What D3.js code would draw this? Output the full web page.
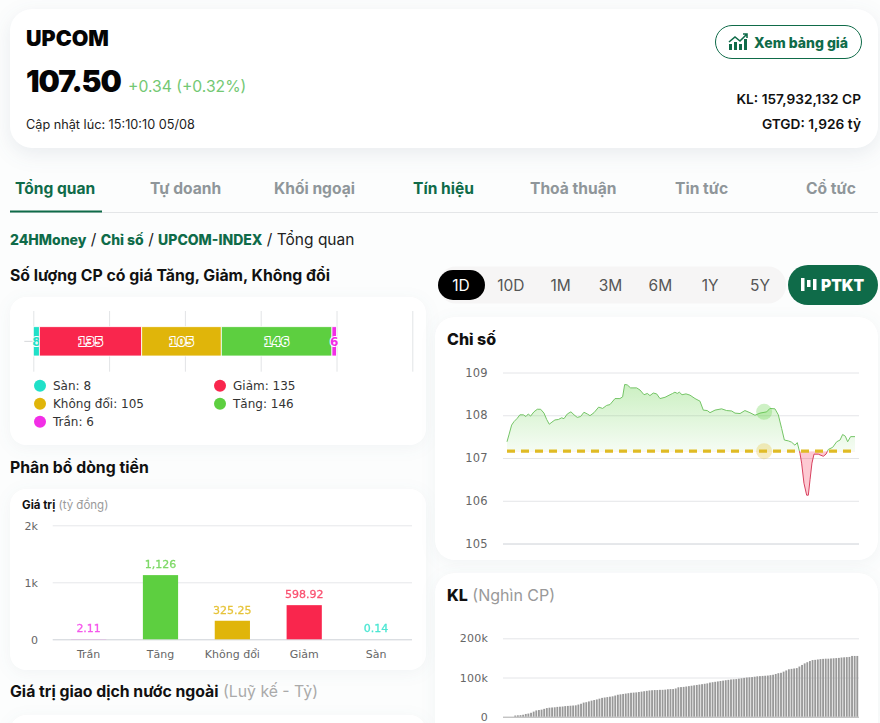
<!DOCTYPE html>
<html>
<head>
<meta charset="utf-8">
<script src="https://cdn.jsdelivr.net/npm/d3@7"></script>
<style>
html,body{margin:0;padding:0;background:#fcfdfd;overflow:hidden;}
svg{display:block;font-family:Inter,sans-serif;}
.chartText text{font-family:"DejaVu Sans",sans-serif;}
.card{fill:#fff;filter:drop-shadow(0 3px 8px rgba(40,70,100,.05));}
.domain{display:none;}
</style>
</head>
<body>
<svg id="page" width="880" height="723"></svg>
<script>
var tabs=["Tổng quan","Tự doanh","Khối ngoại","Tín hiệu","Thoả thuận","Tin tức","Cổ tức"];
var tabX=[15,150,274,413,530,675,806];
var periods=["1D","10D","1M","3M","6M","1Y","5Y"];

//so luong CP
var countNames=["Sàn","Giảm","Không đổi","Tăng","Trần"];
var countValues=[8,135,105,146,6];
var countColors=["#20e0c8","#f9264d","#e0b50a","#5dcf40","#f22ee6"];
var countTicks=[0,100,200,300,400,500];

//dong tien
var flowNames=["Trần","Tăng","Không đổi","Giảm","Sàn"];
var flowValues=[2.11,1126,325.25,598.92,0.14];
var flowLabels=["2.11","1,126","325.25","598.92","0.14"];
var flowColors=["#f22ee6","#5dcf40","#e0b50a","#f9264d","#20e0c8"];
var flowTicks=[0,1000,2000];

//chi so trong phien
var refValue=107.16;
var markerMinute=[199.5];
var markerValue=[108.08];
var indexTicks=[105,106,107,108,109];
var lineMinutes=[0,1.5,3.6,5.4,8,10,12.7,14.7,16.5,18.3,20.9,23.5,26.1,28.7,30.8,32.8,34.9,37.2,39.8,42.4,44.2,46.8,49.6,52,54.5,57.1,59.7,62.3,64.4,67.5,71.1,74.2,77.3,79.9,83.8,87.6,89.7,91.3,93.3,95.9,100.6,103.2,106.3,108.9,110.9,113.5,116.1,118.7,122.6,126.5,128.5,130.3,132.1,133.7,135.8,138.9,142,145.9,149.7,152.3,155.4,157.5,161.4,166.5,170.4,174.3,176.9,180.8,184.6,188.5,192.4,196.3,201.5,204,207.9,210.5,213.1,215.2,218.3,220.8,223.4,225.2,227.3,228.6,230.4,232.5,233.8,235.1,236.6,238.2,241.5,245.4,247.5,249.3,252.7,255.8,258.4,260.4,262.5,264.3,266.6,270];
var lineValues=[107.38,107.54,107.77,107.85,107.93,108.01,108.01,107.97,108.03,107.98,108.08,108.14,108.14,108.05,107.9,107.79,107.84,107.89,107.9,107.94,107.92,108.03,108.08,108.01,107.95,107.97,108.07,108.03,107.99,108.06,108.19,108.16,108.23,108.25,108.39,108.39,108.43,108.72,108.71,108.64,108.64,108.59,108.48,108.51,108.46,108.52,108.5,108.39,108.42,108.48,108.51,108.54,108.51,108.54,108.48,108.5,108.47,108.39,108.33,108.12,108.11,108.06,108.12,108.15,108.11,108.1,108.05,108.04,108.11,108.06,108,108.05,108.08,108.16,108.15,108.01,107.69,107.42,107.4,107.37,107.3,107.36,107.11,106.88,106.41,106.13,106.13,106.49,106.88,107.09,107.09,107.04,107.09,107.2,107.25,107.38,107.42,107.55,107.51,107.38,107.5,107.5];

//khoi luong luy ke, nghin CP
var volumeTicks=[0,100000,200000];
var volumeValues=[0,0,0,0,3,3.5,4,5,7,8,10,13,16,17,18,20,22,23,23.5,24,25,25.5,26,27,27.5,28,28.5,29,31,33,36,37,39,41,42.5,44,46,48,49,50,51,52,54,56,57,58,59,60,61,61.5,62,63,64,65,66,67,67.5,68,68,68.5,68.5,69,70,70.5,70.5,72,75,75.5,76,77,78,79,80,81,82,83,84,85,87,88,89,90,91,92,93,94,95,95.5,96,97,98,99,100,100.5,101,102,103,103.5,104,104.5,105,106,107,109,111,112,115,118,121,122,123,124,128,132,136,139,142,144.5,145,146,147,147.5,148,148,148.5,149,149.5,150,151,151.5,152,152.5,155,155,155];

var GREEN="#0f6b49";
var svg=d3.select("#page");
var defs=svg.append("defs");

var addText=function(parent,x,y,str,size,weight,color,anchor){
    return parent.append("text").attr("x",x).attr("y",y).text(str)
        .attr("font-size",size).attr("font-weight",weight)
        .attr("fill",color).attr("text-anchor",anchor||"start");
}
var addCard=function(x,y,w,h,r){
    svg.append("rect").attr("class","card").attr("x",x).attr("y",y)
        .attr("width",w).attr("height",h).attr("rx",r);
}
var styleAxis=function(g,gridColor,textColor,size,spacing){
    g.selectAll(".tick line").attr("stroke",gridColor);
    g.selectAll(".tick text").attr("fill",textColor).attr("font-size",size)
        .attr("letter-spacing",spacing).attr("font-family","DejaVu Sans");
}

// ---- header card
svg.append("rect").attr("x",10).attr("y",9).attr("width",868).attr("height",139).attr("rx",22)
    .attr("fill","#fff").style("filter","drop-shadow(0 6px 10px rgba(40,70,100,.09))");
addText(svg,26,46,"UPCOM",21.5,900,"#050505");
addText(svg,26,92,"107.50",30,900,"#050505").attr("letter-spacing",-1);
addText(svg,128,92,"+0.34 (+0.32%)",15.7,400,"#73c873");
addText(svg,26,129,"Cập nhật lúc: 15:10:10 05/08",12.7,400,"#222");
svg.append("rect").attr("x",715.5).attr("y",25.5).attr("width",146).attr("height",33).attr("rx",16.5)
    .attr("fill","#fff").attr("stroke",GREEN).attr("stroke-width",1);
var icon=svg.append("g").attr("transform","translate(729,34)");
icon.selectAll("rect").data([[0,10,3,6],[5,8,3,8],[10,10,3,6],[15,5,3,11]]).enter().append("rect")
    .attr("x",function(d){return d[0];}).attr("y",function(d){return d[1];})
    .attr("width",function(d){return d[2];}).attr("height",function(d){return d[3];}).attr("fill",GREEN);
icon.append("path").attr("d","M0 8L6 3L11 7L18 0M14 0H18V4").attr("fill","none").attr("stroke",GREEN).attr("stroke-width",1.6);
addText(svg,754,48,"Xem bảng giá",14,800,GREEN);
addText(svg,861,104,"KL: 157,932,132 CP",13.7,600,"#111","end");
addText(svg,861,129,"GTGD: 1,926 tỷ",13.7,600,"#111","end");

// ---- tabs
svg.selectAll("text.tab").data(tabs).enter().append("text").attr("class","tab")
    .attr("x",function(d,i){return tabX[i];}).attr("y",193.5)
    .attr("font-size",15.6).attr("font-weight",700)
    .attr("fill",function(d,i){return i==0||i==3?GREEN:"#8f969a";})
    .text(function(d){return d;});
svg.append("line").attr("x1",10).attr("x2",878).attr("y1",212.5).attr("y2",212.5).attr("stroke","#e4e6e8");
svg.append("rect").attr("x",10).attr("y",210.5).attr("width",92).attr("height",2).attr("fill",GREEN);

// ---- breadcrumb
var crumb=addText(svg,10,245,"",14.5,400,"#222");
[["24HMoney",1],[" / ",0],["Chỉ số",1],[" / ",0],["UPCOM-INDEX",1],[" / ",0],["Tổng quan",0]].forEach(function(c){
    crumb.append("tspan").text(c[0]).attr("font-weight",c[1]?800:400).attr("font-size",c[1]?14:15.5)
        .attr("fill",c[1]?GREEN:"#222").style("white-space","pre");
});

// ---- count chart
addText(svg,10,281,"Số lượng CP có giá Tăng, Giảm, Không đổi",15.8,650,"#111");
addCard(10,297,416,148,16);
var countG=svg.append("g").attr("class","chartText");
var xCount=d3.scaleLinear().domain([0,500]).range([33.3,412.3]);
var yCount=d3.scaleBand().domain(["count"]).range([311,371.7]);
var countAxis=countG.append("g").attr("transform","translate(0,371.7)")
    .call(d3.axisBottom(xCount).tickValues(countTicks).tickSize(-60.7).tickFormat(""));
countAxis.selectAll(".tick line").attr("stroke","#e2e4e6");
var countStub=countG.append("g").attr("transform","translate(33.3,0)")
    .call(d3.axisLeft(yCount).tickSize(9).tickFormat(""));
countStub.selectAll(".tick line").attr("stroke","#d5d7da");
var countEnds=Array.from(d3.cumsum(countValues));
var countBars=countG.selectAll("g.seg").data(countValues).enter().append("g").attr("class","seg");
countBars.append("rect")
    .attr("x",function(d,i){return xCount(countEnds[i]-d);})
    .attr("width",function(d){return xCount(d)-xCount(0);})
    .attr("y",326.7).attr("height",29.3)
    .attr("fill",function(d,i){return countColors[i];})
    .attr("stroke","#fff").attr("stroke-width",0.8);
countBars.append("text")
    .attr("x",function(d,i){return xCount(countEnds[i]-d/2);})
    .attr("y",345.5).attr("text-anchor","middle").attr("font-size",12).attr("font-weight",700)
    .attr("fill",function(d,i){return countColors[i];})
    .attr("stroke","#fff").attr("stroke-width",2).attr("paint-order","stroke")
    .text(function(d){return d;});
var legendOrder=[[40,385.7],[220,385.7],[40,403.7],[220,403.7],[40,421.7]];
var legend=countG.selectAll("g.lg").data(countNames).enter().append("g").attr("class","lg")
    .attr("transform",function(d,i){return "translate("+legendOrder[i][0]+","+legendOrder[i][1]+")";});
legend.append("circle").attr("r",6).attr("fill",function(d,i){return countColors[i];});
legend.append("text").attr("x",13).attr("y",4.5).attr("font-size",12).attr("fill","#333")
    .text(function(d,i){return d+": "+countValues[i];});

// ---- flow chart
addText(svg,10,473,"Phân bổ dòng tiền",15.8,650,"#111");
addCard(10,489,416,181,16);
var flowTitle=addText(svg,22,509,"Giá trị",11.5,700,"#111");
flowTitle.append("tspan").text(" (tỷ đồng)").attr("font-weight",400).attr("fill","#9a9a9a");
var flowG=svg.append("g").attr("class","chartText");
var xFlow=d3.scaleBand().domain(flowNames).range([52.7,412]).paddingInner(0.51).paddingOuter(0.255);
var yFlow=d3.scaleLinear().domain([0,2000]).range([639.3,525.3]);
var flowY=flowG.append("g").attr("transform","translate(52.7,0)")
    .call(d3.axisLeft(yFlow).tickValues(flowTicks).tickSize(-359.3).tickPadding(14.5)
        .tickFormat(function(d){return d?(d/1000)+"k":"0";}));
styleAxis(flowY,"#e6e7ea","#666",11,0.2);
flowY.selectAll(".tick").filter(function(d){return d==0;}).select("line").attr("stroke","#ccd0d6");
flowY.selectAll(".tick text").attr("dy","0.36em");
var flowX=flowG.append("g").attr("transform","translate(0,639.3)")
    .call(d3.axisBottom(xFlow).tickSize(0).tickPadding(11));
styleAxis(flowX,"none","#666",11,0);
flowG.selectAll("rect.flow").data(flowValues).enter().append("rect").attr("class","flow")
    .attr("x",function(d,i){return xFlow(flowNames[i]);})
    .attr("width",xFlow.bandwidth())
    .attr("y",function(d){return yFlow(d);})
    .attr("height",function(d){return yFlow(0)-yFlow(d);})
    .attr("fill",function(d,i){return flowColors[i];});
flowG.selectAll("text.flowLabel").data(flowValues).enter().append("text").attr("class","flowLabel")
    .attr("x",function(d,i){return xFlow(flowNames[i])+xFlow.bandwidth()/2;})
    .attr("y",function(d){return yFlow(d)-7;})
    .attr("text-anchor","middle").attr("font-size",11)
    .attr("fill",function(d,i){return flowColors[i];})
    .attr("stroke",function(d,i){return flowColors[i];}).attr("stroke-width",0.3).attr("opacity",0.8)
    .text(function(d,i){return flowLabels[i];});

var foreignTitle=addText(svg,10,697,"Giá trị giao dịch nước ngoài",15.8,650,"#111");
foreignTitle.append("tspan").text(" (Luỹ kế - Tỷ)").attr("font-weight",400).attr("fill","#aaa");
addCard(10,715,416,40,16);

// ---- period switch
svg.append("rect").attr("x",438).attr("y",266.5).attr("width",348).attr("height",37).attr("rx",18).attr("fill","#f6f5f5");
svg.append("rect").attr("x",438).attr("y",270).attr("width",47).attr("height",30).attr("rx",15).attr("fill","#000");
var xPeriod=d3.scalePoint().domain(periods).range([461,760]);
svg.selectAll("text.period").data(periods).enter().append("text").attr("class","period")
    .attr("x",function(d){return xPeriod(d);}).attr("y",291)
    .attr("text-anchor","middle").attr("font-size",15.5)
    .attr("fill",function(d,i){return i==0?"#fff":"#555";})
    .text(function(d){return d;});
svg.append("rect").attr("x",788).attr("y",265).attr("width",90).attr("height",40).attr("rx",20).attr("fill",GREEN);
var ptktIcon=svg.append("g").attr("fill","#fff");
ptktIcon.append("rect").attr("x",801).attr("y",278).attr("width",3.5).attr("height",13);
ptktIcon.append("rect").attr("x",807).attr("y",280).attr("width",3.5).attr("height",7);
ptktIcon.append("rect").attr("x",813).attr("y",279).attr("width",3.5).attr("height",11);
addText(svg,821,291,"PTKT",15.5,900,"#fff");

// ---- index chart
addCard(435,317,443,243,20);
addText(svg,447,345,"Chỉ số",16,800,"#111");
var lineG=svg.append("g").attr("class","chartText");
var xLine=d3.scaleLinear().domain([0,270]).range([507,855]);
var yLine=d3.scaleLinear().domain([105,109]).range([543.5,372.5]);
var lineY=lineG.append("g").attr("transform","translate(503,0)")
    .call(d3.axisLeft(yLine).tickValues(indexTicks).tickSize(-356).tickPadding(15).tickFormat(d3.format("d")));
styleAxis(lineY,"#e4e5e8","#666",11.5,0.3);
lineY.selectAll(".tick").filter(function(d){return d==105;}).select("line").attr("stroke","#ccd0d6");

var upGrad=defs.append("linearGradient").attr("id","upFill").attr("gradientUnits","userSpaceOnUse")
    .attr("x1",0).attr("x2",0).attr("y1",yLine(108.72)).attr("y2",yLine(refValue));
upGrad.append("stop").attr("offset",0).attr("stop-color","#5dcf40").attr("stop-opacity",0.32);
upGrad.append("stop").attr("offset",1).attr("stop-color","#5dcf40").attr("stop-opacity",0.06);
defs.append("clipPath").attr("id","aboveRef").append("rect")
    .attr("x",503).attr("width",356).attr("y",yLine(109)).attr("height",yLine(refValue)-yLine(109));
defs.append("clipPath").attr("id","belowRef").append("rect")
    .attr("x",503).attr("width",356).attr("y",yLine(refValue)).attr("height",yLine(105)-yLine(refValue));

var lineData=lineMinutes.map(function(m,i){return [m,lineValues[i]];});
var area=d3.area().x(function(d){return xLine(d[0]);}).y0(yLine(refValue)).y1(function(d){return yLine(d[1]);});
var line=d3.line().x(function(d){return xLine(d[0]);}).y(function(d){return yLine(d[1]);});
lineG.append("path").attr("d",area(lineData)).attr("fill","url(#upFill)").attr("clip-path","url(#aboveRef)");
lineG.append("path").attr("d",area(lineData)).attr("fill","#f9264d").attr("fill-opacity",0.25).attr("clip-path","url(#belowRef)");
lineG.append("path").attr("d",line(lineData)).attr("fill","none").attr("stroke","#74c466").attr("stroke-width",1).attr("clip-path","url(#aboveRef)");
lineG.append("path").attr("d",line(lineData)).attr("fill","none").attr("stroke","#d8415f").attr("stroke-width",1).attr("clip-path","url(#belowRef)");
lineG.append("line").attr("x1",xLine(0)).attr("x2",xLine(270)-4)
    .attr("y1",yLine(refValue)).attr("y2",yLine(refValue))
    .attr("stroke","#e0bb25").attr("stroke-width",3.4).attr("stroke-dasharray","8,6");
lineG.selectAll("circle.markUp").data(markerMinute).enter().append("circle").attr("class","markUp")
    .attr("cx",function(d){return xLine(d);}).attr("cy",function(d,i){return yLine(markerValue[i]);})
    .attr("r",8).attr("fill","#5dcf40").attr("fill-opacity",0.3);
lineG.selectAll("circle.markRef").data(markerMinute).enter().append("circle").attr("class","markRef")
    .attr("cx",function(d){return xLine(d);}).attr("cy",yLine(refValue))
    .attr("r",8).attr("fill","#e3bf2f").attr("fill-opacity",0.3);

// ---- volume chart
addCard(435,573,443,170,20);
var volTitle=addText(svg,447,601,"KL",16,800,"#111");
volTitle.append("tspan").text(" (Nghìn CP)").attr("font-weight",400).attr("fill","#999");
var volG=svg.append("g").attr("class","chartText");
var xVol=d3.scaleBand().domain(d3.range(volumeValues.length)).range([503,859]).padding(0.3);
var yVol=d3.scaleLinear().domain([0,200000]).range([716.7,638.3]);
var volY=volG.append("g").attr("transform","translate(503,0)")
    .call(d3.axisLeft(yVol).tickValues(volumeTicks).tickSize(-356).tickPadding(15)
        .tickFormat(function(d){return d?(d/1000)+"k":"0";}));
styleAxis(volY,"#e4e5e8","#666",11,0.2);
volY.selectAll(".tick").filter(function(d){return d==0;}).select("line").attr("stroke","#aaa");
volG.selectAll("rect.vol").data(volumeValues).enter().append("rect").attr("class","vol")
    .attr("x",function(d,i){return xVol(i);})
    .attr("width",xVol.bandwidth())
    .attr("y",function(d){return yVol(d*1000);})
    .attr("height",function(d){return yVol(0)-yVol(d*1000);})
    .attr("fill","#999");
</script>
</body>
</html>
